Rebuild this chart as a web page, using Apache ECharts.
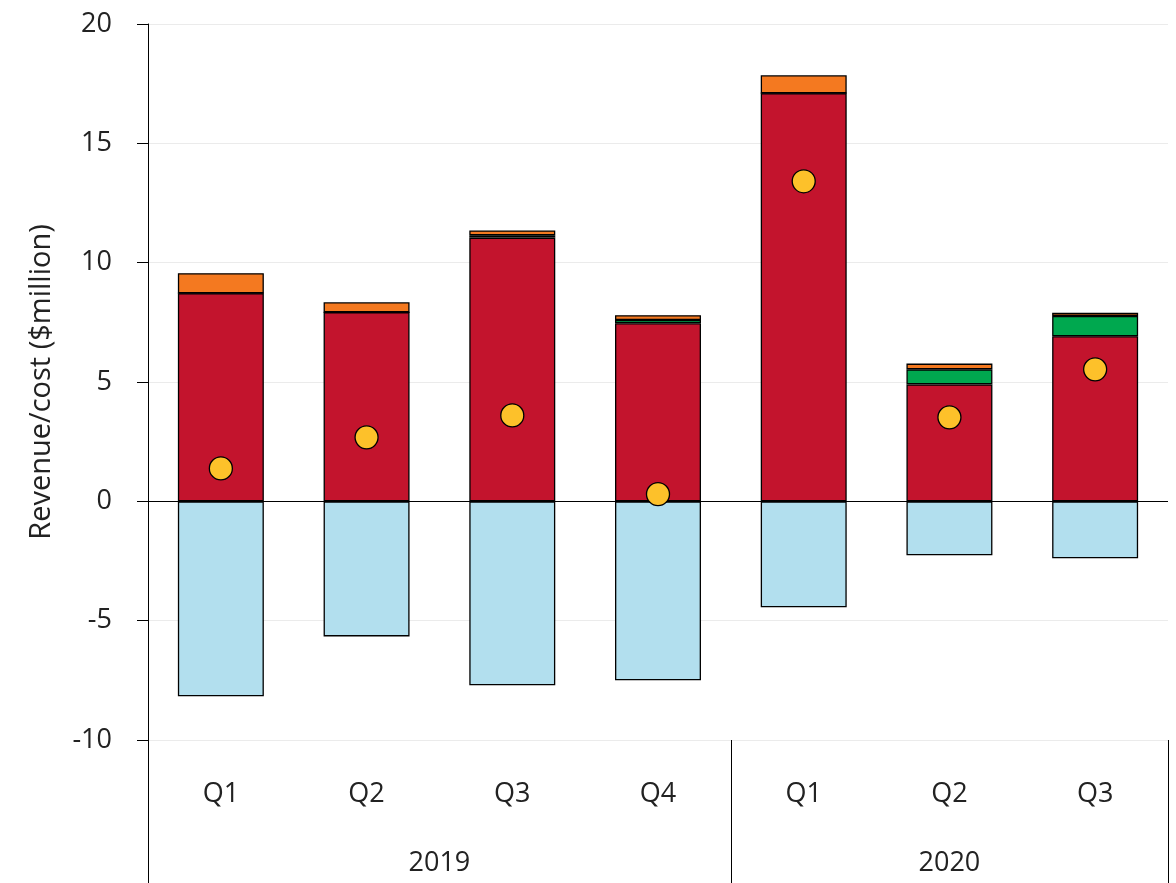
<!DOCTYPE html>
<html><head><meta charset="utf-8">
<script src="https://cdn.jsdelivr.net/npm/echarts@6/dist/echarts.min.js"></script>
<style>html,body{margin:0;padding:0;background:#fff}#c{width:1176px;height:883px}</style>
</head><body><div id="c"></div>
<script>
const quarters = ['Q1','Q2','Q3','Q4','Q1','Q2','Q3'];
const years = ['2019','2020'];
const yearCenters = [2, 5.5];
const yearBounds = [0, 4, 7];
const red = [8.72, 7.92, 11.05, 7.46, 17.1, 4.9, 6.92];
const green = [0, 0, 0.1, 0.14, 0, 0.63, 0.85];
const orange = [0.84, 0.42, 0.2, 0.2, 0.75, 0.24, 0.13];
const blue = [-8.17, -5.66, -7.71, -7.5, -4.44, -2.26, -2.39];
const dots = [1.38, 2.68, 3.6, 0.3, 13.41, 3.52, 5.53];
const yTicks = {min: -10, max: 20, interval: 5};

const font = 'Open Sans';
const barStyle = c => ({color: c, borderColor: '#000', borderWidth: 1.3});
const chart = echarts.init(document.getElementById('c'));
chart.setOption({
  animation: false,
  textStyle: {fontFamily: font},
  grid: {left: 148, right: 8, top: 24, bottom: 143},
  xAxis: [{
    type: 'category', data: quarters,
    axisLine: {show: false, onZero: false}, axisTick: {show: false},
    axisLabel: {fontSize: 27, color: '#222', margin: 41, fontFamily: font}
  }, {
    type: 'value', min: 0, max: 7, position: 'bottom',
    axisLine: {show: false, onZero: false}, splitLine: {show: false},
    axisTick: {show: true, inside: false, length: 143, customValues: yearBounds, lineStyle: {color: '#000', width: 1}},
    axisLabel: {fontSize: 27, color: '#222', margin: 110, customValues: yearCenters,
      formatter: v => years[yearCenters.indexOf(v)] || '', fontFamily: font}
  }],
  yAxis: {
    type: 'value', min: yTicks.min, max: yTicks.max, interval: yTicks.interval,
    name: 'Revenue/cost ($million)', nameLocation: 'middle', nameGap: 92,
    nameTextStyle: {fontSize: 29, color: '#222', fontFamily: font},
    axisLine: {show: true, lineStyle: {color: '#000', width: 1}},
    axisTick: {show: true, length: 11, lineStyle: {color: '#000'}},
    axisLabel: {fontSize: 27, color: '#222', margin: 36, fontFamily: font},
    splitLine: {show: true, lineStyle: {color: '#ebebeb', width: 1}}
  },
  series: [
    {type: 'bar', stack: 's', data: red, barWidth: '59%', itemStyle: barStyle('#C3142D'),
      markLine: {silent: true, symbol: 'none', label: {show: false}, lineStyle: {color: '#000', width: 1, type: 'solid'}, data: [{yAxis: 0}]}},
    {type: 'bar', stack: 's', data: green, itemStyle: barStyle('#00A84F')},
    {type: 'bar', stack: 's', data: orange, itemStyle: barStyle('#F47920')},
    {type: 'bar', stack: 's', data: blue, itemStyle: barStyle('#B2DFEE')},
    {type: 'scatter', data: dots, symbolSize: 23, z: 5, itemStyle: {color: '#FDC12A', opacity: 1, borderColor: '#000', borderWidth: 1.3}}
  ]
});
</script></body></html>
